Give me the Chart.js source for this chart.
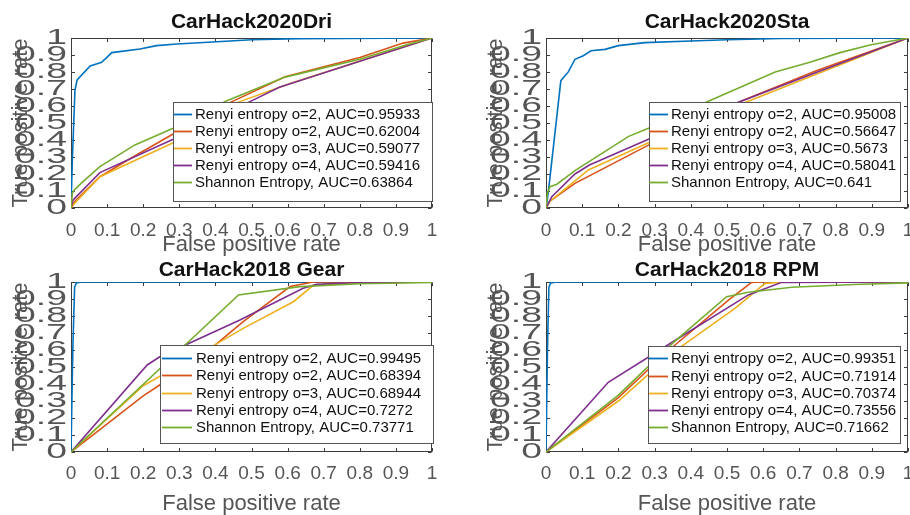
<!DOCTYPE html>
<html>
<head>
<meta charset="utf-8">
<script src="https://cdn.jsdelivr.net/npm/chart.js@4.4.1/dist/chart.umd.min.js"></script>
<style>
  body { margin: 0; background: #fff; }
  #wrap { position: relative; width: 910px; height: 515px; overflow: hidden; }
  .cell { position: absolute; }
</style>
</head>
<body>
<div id="wrap">
  <div class="cell" style="left:0;top:0"><canvas id="c0" width="455" height="257"></canvas></div>
  <div class="cell" style="left:455px;top:0"><canvas id="c1" width="455" height="257"></canvas></div>
  <div class="cell" style="left:0;top:257px"><canvas id="c2" width="455" height="258"></canvas></div>
  <div class="cell" style="left:455px;top:257px"><canvas id="c3" width="455" height="258"></canvas></div>
</div>
<script>
// chart data
const titles = ['CarHack2020Dri', 'CarHack2020Sta', 'CarHack2018 Gear', 'CarHack2018 RPM'];
const methods = ['Renyi entropy o=2', 'Renyi entropy o=2', 'Renyi entropy o=3', 'Renyi entropy o=4', 'Shannon Entropy'];
const colors = ['#0072BD', '#D95319', '#EDB120', '#7E2F8E', '#77AC30'];
const tickLabels = ['0', '0.1', '0.2', '0.3', '0.4', '0.5', '0.6', '0.7', '0.8', '0.9', '1'];

const aucDri = [0.95933, 0.62004, 0.59077, 0.59416, 0.63864];
const aucSta = [0.95008, 0.56647, 0.5673, 0.58041, 0.641];
const aucGear = [0.99495, 0.68394, 0.68944, 0.7272, 0.73771];
const aucRpm = [0.99351, 0.71914, 0.70374, 0.73556, 0.71662];

// ROC curves as [false positive rate, true positive rate]
const driRenyi2a = [[0,0],[0.004,0.3],[0.011,0.694],[0.017,0.753],[0.053,0.835],[0.085,0.857],[0.113,0.914],[0.191,0.935],[0.237,0.955],[0.293,0.965],[0.404,0.978],[0.5,0.99],[0.63,0.996],[1,1]];
const driRenyi2b = [[0,0],[0.011,0.04],[0.08,0.184],[0.18,0.31],[0.283,0.435],[0.44,0.62],[0.593,0.772],[0.8,0.885],[0.92,0.97],[1,1]];
const driRenyi3 = [[0,0],[0.011,0.03],[0.08,0.184],[0.283,0.384],[0.46,0.62],[0.607,0.733],[1,1]];
const driRenyi4 = [[0,0],[0.006,0.047],[0.08,0.208],[0.283,0.404],[0.5,0.63],[0.577,0.71],[1,1]];
const driShannon = [[0,0],[0.004,0.09],[0.011,0.11],[0.03,0.149],[0.08,0.243],[0.177,0.371],[0.283,0.469],[0.43,0.63],[0.593,0.77],[0.8,0.875],[0.93,0.96],[1,1]];

const staRenyi2a = [[0,0],[0.006,0.086],[0.041,0.749],[0.062,0.802],[0.08,0.875],[0.103,0.896],[0.124,0.925],[0.163,0.933],[0.2,0.955],[0.273,0.973],[0.4,0.982],[0.5,0.99],[0.65,0.997],[1,1]];
const staRenyi2b = [[0,0],[0.011,0.04],[0.08,0.145],[0.283,0.37],[0.54,0.63],[0.75,0.81],[1,1]];
const staRenyi3 = [[0,0],[0.011,0.04],[0.08,0.16],[0.117,0.224],[0.283,0.384],[0.55,0.62],[0.75,0.79],[1,1]];
const staRenyi4 = [[0,0],[0.016,0.067],[0.08,0.2],[0.12,0.253],[0.283,0.404],[0.53,0.62],[0.75,0.8],[1,1]];
const staShannon = [[0,0],[0.004,0.09],[0.011,0.125],[0.03,0.14],[0.08,0.22],[0.227,0.42],[0.283,0.469],[0.45,0.63],[0.633,0.8],[0.729,0.857],[0.812,0.914],[0.895,0.959],[1,1]];

const gearRenyi2a = [[0,0],[0.005,0.6],[0.01,0.97],[0.015,0.995],[0.03,1],[1,1]];
const gearRenyi2b = [[0,0],[0.2,0.33],[0.25,0.4],[0.394,0.62],[0.477,0.767],[0.607,0.973],[0.671,1],[1,1]];
const gearRenyi3 = [[0,0],[0.2,0.39],[0.25,0.45],[0.39,0.62],[0.477,0.727],[0.616,0.884],[0.671,0.98],[0.8,0.995],[1,1]];
const gearRenyi4 = [[0,0],[0.211,0.512],[0.246,0.56],[0.468,0.776],[0.643,0.963],[0.68,0.986],[0.8,0.997],[1,1]];
const gearShannon = [[0,0],[0.464,0.924],[0.634,0.973],[0.8,0.99],[1,0.997]];

const rpmRenyi2a = [[0,0],[0.004,0.6],[0.008,0.97],[0.013,0.995],[0.03,1],[1,1]];
const rpmRenyi2b = [[0,0],[0.2,0.32],[0.34,0.6],[0.504,0.894],[0.568,0.998],[0.6,1],[1,1]];
const rpmRenyi3 = [[0,0],[0.2,0.3],[0.35,0.585],[0.522,0.845],[0.605,0.992],[0.66,1],[1,1]];
const rpmRenyi4 = [[0,0],[0.172,0.41],[0.366,0.669],[0.559,0.924],[0.651,0.998],[1,1]];
const rpmShannon = [[0,0],[0.2,0.335],[0.35,0.64],[0.499,0.914],[0.559,0.94],[0.679,0.969],[0.85,0.985],[1,0.995]];

const curves = [
  [driRenyi2a, driRenyi2b, driRenyi3, driRenyi4, driShannon],
  [staRenyi2a, staRenyi2b, staRenyi3, staRenyi4, staShannon],
  [gearRenyi2a, gearRenyi2b, gearRenyi3, gearRenyi4, gearShannon],
  [rpmRenyi2a, rpmRenyi2b, rpmRenyi3, rpmRenyi4, rpmShannon]
];
const aucs = [aucDri, aucSta, aucGear, aucRpm];

// panel geometry (canvas-local pixels)
const layouts = [
  { w: 455, h: 257, left: 71, right: 432, bottom: 208, titlePad: [11.5, 5.5], yTitlePad: 10, tickPad: 5.5, xTitlePad: 1,
    legend: { x: 173, y: 102, w: 260, h: 100, s0: 174, s1: 192, tx: 195, first: 12, step: 17 } },
  { w: 455, h: 257, left: 91, right: 453, bottom: 208, titlePad: [11.5, 5.5], yTitlePad: 30, tickPad: 5.5, xTitlePad: 1,
    legend: { x: 194, y: 102, w: 252, h: 100, s0: 194, s1: 213, tx: 216, first: 12, step: 17 } },
  { w: 455, h: 258, left: 71, right: 432, bottom: 195, titlePad: [2.5, 1.5], yTitlePad: 10, tickPad: 4.5, xTitlePad: 0,
    legend: { x: 160, y: 88, w: 274, h: 99, s0: 162, s1: 192, tx: 196, first: 13, step: 17.25 } },
  { w: 455, h: 258, left: 91, right: 453, bottom: 195, titlePad: [2.5, 1.5], yTitlePad: 30, tickPad: 4.5, xTitlePad: 0,
    legend: { x: 193, y: 89, w: 253, h: 98, s0: 194, s1: 213, tx: 216, first: 12.3, step: 17.25 } }
];

Chart.defaults.font.family = '"Liberation Sans", Arial, Helvetica, sans-serif';

// MATLAB-like box with inward ticks, and stretched y tick labels
const axesBox = {
  id: 'axesBox',
  beforeDatasetsDraw(chart) {
    const { ctx, chartArea: a, scales: { x, y } } = chart;
    const L = Math.round(a.left) + 0.5, R = Math.round(a.right) - 0.5;
    const T = Math.round(a.top) + 0.5, B = Math.round(a.bottom) - 0.5;
    ctx.save();
    ctx.strokeStyle = '#3c3c3c';
    ctx.lineWidth = 1;
    ctx.strokeRect(L, T, R - L, B - T);
    ctx.beginPath();
    x.ticks.forEach(t => {
      const px = Math.round(x.getPixelForValue(t.value)) + 0.5;
      ctx.moveTo(px, B); ctx.lineTo(px, B - 3.5);
      ctx.moveTo(px, T); ctx.lineTo(px, T + 3.5);
    });
    y.ticks.forEach(t => {
      const py = Math.round(y.getPixelForValue(t.value)) + 0.5;
      ctx.moveTo(L, py); ctx.lineTo(L + 3.5, py);
      ctx.moveTo(R, py); ctx.lineTo(R - 3.5, py);
    });
    ctx.stroke();
    ctx.restore();
  },
  afterDraw(chart) {
    const { ctx, chartArea: a, scales: { y } } = chart;
    ctx.save();
    ctx.fillStyle = '#555';
    ctx.font = '22px "Liberation Sans", Arial, sans-serif';
    ctx.textAlign = 'right';
    ctx.textBaseline = 'middle';
    y.ticks.forEach((t, i) => {
      ctx.save();
      ctx.translate(a.left - 4, y.getPixelForValue(t.value));
      ctx.scale(1.7, 1);
      ctx.fillText(tickLabels[i], 0, 0);
      ctx.restore();
    });
    ctx.restore();
  }
};

// legend box inside the plot, lower right
const insetLegend = {
  id: 'insetLegend',
  afterDatasetsDraw(chart, args, o) {
    const { ctx } = chart;
    ctx.save();
    ctx.fillStyle = '#fff';
    ctx.fillRect(o.x, o.y, o.w, o.h);
    ctx.strokeStyle = '#555';
    ctx.lineWidth = 1;
    ctx.strokeRect(o.x + 0.5, o.y + 0.5, o.w - 1, o.h - 1);
    ctx.font = '15px "Liberation Sans", Arial, sans-serif';
    ctx.textAlign = 'left';
    ctx.textBaseline = 'middle';
    chart.data.datasets.forEach((ds, i) => {
      const ry = Math.round(o.y + o.first + i * o.step) + 0.5;
      ctx.strokeStyle = ds.borderColor;
      ctx.lineWidth = 1.8;
      ctx.beginPath();
      ctx.moveTo(o.s0, ry);
      ctx.lineTo(o.s1, ry);
      ctx.stroke();
      ctx.fillStyle = '#111';
      ctx.fillText(ds.label, o.tx, ry);
    });
    ctx.restore();
  }
};

layouts.forEach((lay, p) => {
  const datasets = curves[p].map((pts, i) => ({
    label: methods[i] + ', AUC=' + aucs[p][i],
    data: pts.map(([fx, fy]) => ({ x: fx, y: fy })),
    borderColor: colors[i],
    backgroundColor: colors[i],
    borderWidth: 1.6,
    pointRadius: 0,
    tension: 0,
    fill: false,
    order: 4 - i
  }));

  new Chart(document.getElementById('c' + p), {
    type: 'line',
    data: { datasets },
    plugins: [axesBox, insetLegend],
    options: {
      responsive: false,
      animation: false,
      layout: { padding: { left: 0, right: lay.w - lay.right, top: 0, bottom: 0 } },
      plugins: {
        legend: { display: false },
        tooltip: { enabled: false },
        title: {
          display: true,
          text: titles[p],
          fullSize: false,
          color: '#111',
          font: { size: 21, weight: 'bold', lineHeight: 1 },
          padding: { top: lay.titlePad[0], bottom: lay.titlePad[1] }
        },
        insetLegend: lay.legend
      },
      scales: {
        x: {
          type: 'linear',
          min: 0,
          max: 1,
          grid: { display: false },
          border: { display: false },
          ticks: {
            stepSize: 0.1,
            autoSkip: false,
            maxRotation: 0,
            padding: lay.tickPad,
            color: '#555',
            font: { size: 19, lineHeight: 1 },
            callback: (v, i) => tickLabels[i]
          },
          title: {
            display: true,
            text: 'False positive rate',
            color: '#555',
            font: { size: 22, lineHeight: 1 },
            padding: { top: 0, bottom: lay.xTitlePad }
          },
          afterFit: s => { s.height = lay.h - lay.bottom; s.paddingLeft = 0; s.paddingRight = 0; }
        },
        y: {
          min: 0,
          max: 1,
          grid: { display: false },
          border: { display: false },
          ticks: { stepSize: 0.1, display: false },
          title: {
            display: true,
            text: 'True positive rate',
            color: '#555',
            font: { size: 22, lineHeight: 1 },
            padding: { top: lay.yTitlePad, bottom: 0 }
          },
          afterFit: s => { s.width = lay.left; s.paddingTop = 0; s.paddingBottom = 0; }
        }
      }
    }
  });
});
</script>
</body>
</html>
